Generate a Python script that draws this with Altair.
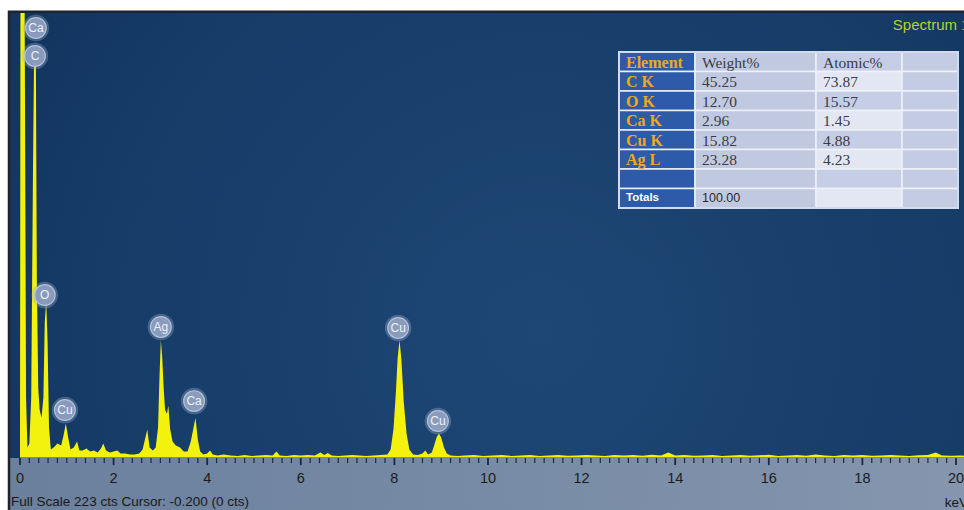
import altair as alt
import pandas as pd

# ---------------- EDS spectrum: energy (keV) vs counts ----------------
KEV = [
    0.00, 0.01, 0.10, 0.13, 0.16, 0.20, 0.24, 0.28, 0.30, 0.34, 0.36, 0.39,
    0.42, 0.46, 0.50, 0.53, 0.56, 0.59, 0.62, 0.66, 0.72, 0.80, 0.88, 0.93,
    0.98, 1.03, 1.08, 1.15, 1.22, 1.27, 1.34, 1.42, 1.50, 1.58, 1.66, 1.73,
    1.78, 1.84, 1.92, 2.00, 2.08, 2.15, 2.25, 2.35, 2.45, 2.55, 2.62, 2.67,
    2.72, 2.77, 2.84, 2.90, 2.95, 2.98, 3.01, 3.04, 3.07, 3.10, 3.14, 3.17,
    3.21, 3.26, 3.33, 3.42, 3.50, 3.58, 3.65, 3.70, 3.75, 3.80, 3.85, 3.92,
    4.00, 4.06, 4.12, 4.22, 4.35, 4.50, 4.65, 4.80, 4.95, 5.10, 5.25, 5.40,
    5.48, 5.55, 5.70, 5.85, 6.00, 6.15, 6.30, 6.42, 6.50, 6.58, 6.66, 6.80,
    6.95, 7.10, 7.25, 7.40, 7.55, 7.70, 7.85, 7.92, 7.98, 8.03, 8.07, 8.11,
    8.15, 8.20, 8.26, 8.32, 8.40, 8.50, 8.60, 8.66, 8.72, 8.80, 8.85, 8.90,
    8.95, 9.00, 9.06, 9.12, 9.20, 9.35, 9.50, 9.70, 9.90, 10.10, 10.30,
    10.50, 10.70, 10.90, 11.10, 11.30, 11.50, 11.70, 11.90, 12.10, 12.30,
    12.50, 12.70, 12.90, 13.10, 13.30, 13.50, 13.70, 13.85, 14.00, 14.20,
    14.40, 14.60, 14.80, 15.00, 15.20, 15.40, 15.60, 15.80, 16.00, 16.20,
    16.40, 16.60, 16.80, 17.00, 17.20, 17.40, 17.60, 17.80, 18.00, 18.20,
    18.40, 18.60, 18.80, 19.00, 19.20, 19.40, 19.57, 19.70, 19.90, 20.10,
    20.30,
]
CTS = [
    0.0, 223.5, 223.5, 30.0, 5.0, 7.0, 30.0, 150.0, 198.0, 198.0, 90.0, 35.0,
    24.0, 20.0, 30.0, 68.0, 79.0, 58.0, 15.0, 4.0, 5.0, 7.0, 6.0, 11.0,
    17.0, 10.0, 4.0, 5.0, 8.0, 3.5, 3.5, 4.5, 3.0, 3.5, 2.5, 4.5,
    7.0, 3.5, 2.5, 3.0, 3.5, 2.0, 2.0, 1.5, 1.5, 2.0, 4.0, 9.0,
    14.0, 5.0, 3.5, 5.0, 15.0, 40.0, 59.0, 50.0, 35.0, 24.0, 22.0, 26.0,
    14.0, 8.0, 6.0, 5.0, 3.0, 3.0, 8.0, 14.0, 20.0, 9.0, 3.0, 1.5,
    2.0, 3.5, 1.5, 1.0, 1.5, 1.0, 0.8, 1.2, 0.8, 1.0, 1.2, 1.0,
    3.0, 1.0, 0.8, 1.2, 1.0, 1.2, 1.0, 2.5, 1.2, 2.2, 1.0, 0.8,
    1.0, 1.2, 1.0, 0.8, 1.0, 1.2, 1.5, 4.0, 14.0, 32.0, 50.0, 59.0,
    49.0, 28.0, 12.0, 4.0, 1.5, 1.2, 2.0, 3.5, 1.5, 2.5, 6.0, 10.0,
    12.0, 10.0, 5.0, 2.0, 1.0, 0.8, 1.0, 1.2, 0.8, 1.0, 1.2,
    0.8, 1.0, 1.3, 0.8, 1.0, 1.2, 0.9, 1.0, 1.3, 1.0,
    0.8, 1.2, 1.0, 1.3, 0.9, 1.4, 1.0, 2.5, 1.0, 1.2,
    0.9, 1.0, 1.3, 0.8, 1.0, 1.2, 0.9, 1.1, 1.4, 0.8,
    1.0, 1.2, 0.9, 1.5, 1.0, 0.8, 1.2, 1.0, 1.3, 0.9,
    1.0, 1.2, 1.0, 0.8, 1.1, 1.3, 2.5, 1.0, 0.9, 1.0,
    0.8,
]

# Peak identification badges (element, keV, counts)
PEAK_NAMES = ["Ca", "C", "O", "Cu", "Ag", "Ca", "Cu", "Cu"]
PEAK_KEV = [0.34, 0.32, 0.53, 0.96, 3.01, 3.72, 8.08, 8.93]
PEAK_CTS = [215.5, 201.5, 81.5, 23.8, 65.5, 28.3, 65.0, 18.3]

# Quantification table
TABLE_HEADER = ["Element", "Weight%", "Atomic%"]
TABLE_ELEMENTS = ["C K", "O K", "Ca K", "Cu K", "Ag L"]
TABLE_WEIGHT = [45.25, 12.70, 2.96, 15.82, 23.28]
TABLE_ATOMIC = [73.87, 15.57, 1.45, 4.88, 4.23]
TABLE_TOTAL = 100.00

AXIS_LABELS = [0, 2, 4, 6, 8, 10, 12, 14, 16, 18, 20]
FULL_SCALE = 223
CURSOR_KEV = -0.200
CURSOR_CTS = 0

# ---------------- layout ----------------
W, H = 964, 510
XS = alt.Scale(domain=[-0.427, 20.171], nice=False, zero=False)
YS = alt.Scale(domain=[-26.34, 229.55], nice=False, zero=False)

FRAME = dict(left=-0.235, right=20.4, top=223.6, plot_bottom=-0.25, bottom=-27.5)
TICK_TOP = -0.25          # counts units, just under the baseline
TICK_MINOR_END = -2.8
TICK_MAJOR_END = -3.8
LABEL_Y = -10.8

plot_bg = pd.DataFrame({"x0": [FRAME["left"]], "x1": [FRAME["right"]],
                        "y0": [FRAME["plot_bottom"]], "y1": [FRAME["top"]]})
strip_bg = pd.DataFrame({"x0": [FRAME["left"]], "x1": [FRAME["right"]],
                         "y0": [FRAME["bottom"]], "y1": [FRAME["plot_bottom"]]})
frame_df = pd.DataFrame({"x0": [FRAME["left"]], "x1": [FRAME["right"]],
                         "y0": [FRAME["bottom"]], "y1": [FRAME["top"]]})


def rect_enc(chart):
    return chart.encode(
        x=alt.X("x0:Q", scale=XS, axis=None), x2="x1:Q",
        y=alt.Y("y0:Q", scale=YS, axis=None), y2="y1:Q",
    )


dark = rect_enc(alt.Chart(plot_bg).mark_rect(
    color=alt.RadialGradient(
        gradient="radial", x1=0.55, y1=0.6, r1=0.0, x2=0.55, y2=0.6, r2=0.8,
        stops=[alt.GradientStop(offset=0, color="#1f4775"),
               alt.GradientStop(offset=0.55, color="#163c68"),
               alt.GradientStop(offset=1, color="#0f2f58")],
    )
))
strip = rect_enc(alt.Chart(strip_bg).mark_rect(
    color=alt.LinearGradient(
        gradient="linear", x1=0, y1=0, x2=1, y2=0,
        stops=[alt.GradientStop(offset=0, color="#6a809d"),
               alt.GradientStop(offset=1, color="#8596ae")],
    )
))
frame = rect_enc(alt.Chart(frame_df).mark_rect(
    fillOpacity=0, stroke="#1f242c", strokeWidth=2.5))

spec_df = pd.DataFrame({"kev": KEV, "cts": CTS})
area = alt.Chart(spec_df).mark_area(color="#f2f20e", clip=True).encode(
    x=alt.X("kev:Q", scale=XS, axis=None),
    y=alt.Y("cts:Q", scale=YS, axis=None),
    y2=alt.datum(0),
)

# energy axis: 0.2 keV ticks, longer ones at the labelled even values
tick_pos = [round(0.2 * i, 1) for i in range(101)]
ticks_df = pd.DataFrame({
    "kev": tick_pos,
    "end": [TICK_MAJOR_END if round(v, 1) in AXIS_LABELS else TICK_MINOR_END for v in tick_pos],
    "w": [1.8 if round(v, 1) in AXIS_LABELS else 1.2 for v in tick_pos],
})
ticks = alt.Chart(ticks_df).mark_rule(color="#1b2940").encode(
    x=alt.X("kev:Q", scale=XS, axis=None),
    y=alt.Y("top:Q", scale=YS, axis=None),
    y2="end:Q",
    strokeWidth=alt.StrokeWidth("w:Q", scale=None, legend=None),
).transform_calculate(top=str(TICK_TOP))

labels_df = pd.DataFrame({"kev": AXIS_LABELS, "text": [str(v) for v in AXIS_LABELS]})
tick_labels = alt.Chart(labels_df).mark_text(
    font="Liberation Sans", fontSize=14.5, color="#1c1c1c", baseline="middle"
).encode(
    x=alt.X("kev:Q", scale=XS, axis=None),
    y=alt.Y("y:Q", scale=YS, axis=None),
    text="text:N",
).transform_calculate(y=str(LABEL_Y))

peaks_df = pd.DataFrame({"name": PEAK_NAMES, "kev": PEAK_KEV, "cts": PEAK_CTS})
peak_base = alt.Chart(peaks_df).encode(
    x=alt.X("kev:Q", scale=XS, axis=None),
    y=alt.Y("cts:Q", scale=YS, axis=None),
)
halo = peak_base.mark_point(filled=True, shape="circle", size=700,
                            color="#9fb1cf", opacity=0.35)
badge = peak_base.mark_point(filled=True, shape="circle", size=430,
                             color="#8d9fc0", opacity=0.95,
                             stroke="#b9c6de", strokeWidth=1.2)
badge_txt = peak_base.mark_text(font="Liberation Sans", fontSize=12,
                                color="#eef2f8").encode(text="name:N")

notes_df = pd.DataFrame({
    "text": [f"Full Scale {FULL_SCALE} cts Cursor: {CURSOR_KEV:.3f}  ({CURSOR_CTS} cts)",
             "keV", "Spectrum 1"],
    "kev": [-0.19, 19.76, 18.65],
    "cts": [-24.3, -24.8, 214.5],
    "size": [13.5, 13.5, 15],
    "color": ["#181818", "#181818", "#b4d232"],
})
notes = alt.Chart(notes_df).mark_text(
    font="Liberation Sans", align="left", baseline="alphabetic"
).encode(
    x=alt.X("kev:Q", scale=XS, axis=None),
    y=alt.Y("cts:Q", scale=YS, axis=None),
    text="text:N",
    size=alt.Size("size:Q", scale=None, legend=None),
    color=alt.Color("color:N", scale=None, legend=None),
)

spectrum = alt.layer(dark, strip, area, ticks, tick_labels,
                     halo, badge, badge_txt, notes, frame)

# ---------------- quantification table ----------------
COL_EDGES = [0, 76, 197, 283, 339]      # table units
TX = alt.Scale(domain=[0, 339], range=[619, 958], nice=False, zero=False)
TY = alt.Scale(domain=[0, 8], range=[52, 208], nice=False, zero=False)
N_ROWS = 8

cells = []
for r in range(N_ROWS):
    for c in range(4):
        if c == 0:
            fill = "#2d5ba9"
        elif c == 1:
            fill = "#c1c9e1"
        elif c == 2:
            fill = "#c6cee5" if r % 2 == 0 else "#e3e7f3"
        else:
            fill = "#c4cce3"
        cells.append({"x0": COL_EDGES[c], "x1": COL_EDGES[c + 1],
                      "y0": r, "y1": r + 1, "fill": fill})
cells_df = pd.DataFrame(cells)

cell_layer = alt.Chart(cells_df).mark_rect(stroke="#eef1f8", strokeWidth=1.5).encode(
    x=alt.X("x0:Q", scale=TX, axis=None), x2="x1:Q",
    y=alt.Y("y0:Q", scale=TY, axis=None), y2="y1:Q",
    color=alt.Color("fill:N", scale=None, legend=None),
)
outline = alt.Chart(pd.DataFrame({"x0": [0], "x1": [339], "y0": [0], "y1": [8]})).mark_rect(
    fillOpacity=0, stroke="#d3daec", strokeWidth=2
).encode(
    x=alt.X("x0:Q", scale=TX, axis=None), x2="x1:Q",
    y=alt.Y("y0:Q", scale=TY, axis=None), y2="y1:Q",
)

pad = 7
orange_df = pd.DataFrame({
    "text": [TABLE_HEADER[0]] + TABLE_ELEMENTS,
    "x": [COL_EDGES[0] + pad] * (1 + len(TABLE_ELEMENTS)),
    "y": [0.5 + i for i in range(1 + len(TABLE_ELEMENTS))],
})
value_rows = [TABLE_HEADER[1], TABLE_HEADER[2]]
value_x = [COL_EDGES[1] + pad, COL_EDGES[2] + pad]
value_y = [0.5, 0.5]
for i, (w, a) in enumerate(zip(TABLE_WEIGHT, TABLE_ATOMIC)):
    value_rows += [f"{w:.2f}", f"{a:.2f}"]
    value_x += [COL_EDGES[1] + pad, COL_EDGES[2] + pad]
    value_y += [1.5 + i, 1.5 + i]
values_df = pd.DataFrame({"text": value_rows, "x": value_x, "y": value_y})
totals_lbl_df = pd.DataFrame({"text": ["Totals"], "x": [COL_EDGES[0] + pad], "y": [7.5]})
totals_val_df = pd.DataFrame({"text": [f"{TABLE_TOTAL:.2f}"], "x": [COL_EDGES[1] + pad], "y": [7.5]})


def table_text(df, **mark):
    return alt.Chart(df).mark_text(align="left", baseline="middle", **mark).encode(
        x=alt.X("x:Q", scale=TX, axis=None),
        y=alt.Y("y:Q", scale=TY, axis=None),
        text="text:N",
    )


table = alt.layer(
    cell_layer, outline,
    table_text(orange_df, font="Liberation Serif", fontSize=16, fontWeight="bold",
               color="#f0a81e", dy=1),
    table_text(values_df, font="Liberation Serif", fontSize=15.5, color="#3a3c48", dy=1),
    table_text(totals_lbl_df, font="Liberation Sans", fontSize=11.5, fontWeight="bold",
               color="#ffffff"),
    table_text(totals_val_df, font="Liberation Sans", fontSize=12.5, color="#2a2a2a"),
)

chart = alt.layer(spectrum, table).resolve_scale(
    x="independent", y="independent"
).properties(
    width=W, height=H,
    autosize=alt.AutoSizeParams(type="none"),
    padding=0,
    background="#ffffff",
).configure_view(stroke=None)

chart.save("out.html", embed_options={"renderer": "svg", "actions": False})
